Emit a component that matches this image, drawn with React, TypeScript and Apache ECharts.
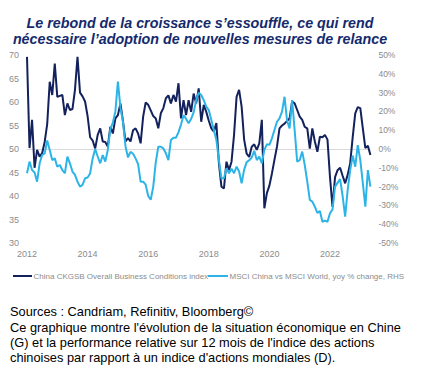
import React, { useEffect, useRef } from "react";
import * as echarts from "echarts";

// Monthly categories Jan 2012 .. May 2023
const months: string[] = [];
for (let y = 2012; y <= 2023; y++) {
  for (let m = 1; m <= 12; m++) {
    if (y === 2023 && m > 5) break;
    months.push(`${y}-${m < 10 ? "0" + m : m}`);
  }
}

const yearLabels = ["2012", "2014", "2016", "2018", "2020", "2022"];

// China CKGSB Overall Business Conditions index (left axis)
const ckgsb = [
  69.6, 50.2, 56.2, 46, 49.8, 48.4, 49.1, 51.5, 55.3, 64.3, 61.5, 68.2,
  61.1, 61.3, 61.5, 57.2, 59.7, 58.3, 58.5, 62.6, 69.6, 62, 61.2, 60.1,
  57, 52.5, 51.8, 50.1, 53, 54.4, 51.6, 51.5, 50.5, 54.7, 53.3, 56.5,
  57.2, 59.7, 56, 51.6, 52.3, 51.6, 54, 54.4, 53.3, 51.2, 56.9, 59.9,
  59.4, 58.2, 57, 56.5, 54.4, 57.6, 58.7, 60.8, 61.4, 59.7, 61.5, 60.1,
  64, 56.5, 60.4, 57.2, 60.4, 57.9, 61.8, 59.7, 62.9, 55.8, 59.4, 57.9,
  56, 54.4, 53.7, 55.5, 47, 42, 41.6, 47.3, 45.5, 47.3, 53, 61.1,
  62.6, 59, 52, 49, 48.3, 50.5, 51, 49.8, 51.2, 56.2, 37.4, 40.6,
  42.2, 44.8, 47.7, 50.5, 54.4, 55, 55.4, 56, 56.5, 60.1, 59.7, 58.3,
  56.9, 56.2, 54.7, 54.4, 50.1, 54.4, 51.6, 49.4, 52.6, 52.5, 53, 52,
  44, 37.7, 44, 45.5, 46, 44.3, 42.7, 44.5, 47, 52.6, 57.6, 58.9,
  58.7, 54.4, 50.2, 50.7, 48.7,
];

// MSCI China vs MSCI World, yoy % change (right axis)
const msci = [
  -12.9, -6.7, -11.2, -12.5, -17.4, -7.6, -3.2, -2.3, 4.5, -0.5, -5.9, -5,
  -9.4, -8.5, -11.2, -12.9, -4.1, -7.6, -12, -13.8, -17.4, -20, -19.1, -15.6,
  -15.2, -13, -5, 0, -4, -7.6, -3.2, -6.7, -0.5, 10.5, 14, 20,
  35.8, 22, 14.5, 1.5, -4.5, -1.5, -2.5, -5, -8, -17.4, -17.4, -19,
  -25, -27, -20, -7, 1.2, 1.2, 0.3, -2.3, -5.9, 4.8, 6, 6,
  9, 13, 18, 16, 13.7, 16, 19.5, 26, 30, 28.7, 26, 22.5,
  20.7, 15.4, 10.1, 4.8, -5.9, -15.6, -15.6, -10.3, -12.9, -10.5, -12.9, -9.4,
  -12, -18.2, -11, -7, -6, -4.5, -1, -5.9, -4.1, -7.6, -0.5, 2.5,
  2.2, 5.7, 10.1, 14.5, 16.3, 19.9, 27.8, 15, 11, 26, 10, -6.7,
  -5.9, -1.4, -8.5, -17.4, -27.1, -28, -30.7, -34, -33, -38.7, -38.1, -38.7,
  -34.2, -32.1, -20, -18, -16, -25, -36, -21.8, -11.2, -3.5, -9.4, 2.1,
  -5.9, -18.2, -30.7, -11.2, -20,
];

const seriesNames = [
  "China CKGSB Overall Business Conditions index",
  "MSCI China vs MSCI World, yoy % change, RHS",
];

const titleLines = [
  "Le rebond de la croissance s’essouffle, ce qui rend",
  "nécessaire l’adoption de nouvelles mesures de relance",
];

const footerLines = [
  "Sources : Candriam, Refinitiv, Bloomberg©",
  "Ce graphique montre l'évolution de la situation économique en Chine",
  "(G) et la performance relative sur 12 mois de l'indice des actions",
  "chinoises par rapport à un indice d'actions mondiales (D).",
];

const FONT = '"Liberation Sans", Arial, sans-serif';
const DARK = "#13215c";
const LIGHT = "#2db4e7";
const GREY = "#8c8c8c";

export default function App() {
  const ref = useRef<HTMLDivElement>(null);
  useEffect(() => {
    if (!ref.current) return;
    const chart = echarts.init(ref.current, undefined, { renderer: "svg" });
    const titleY = [23, 38.5];
    const footerY = [311.5, 327, 342, 357];
    const legendItems = [
      { x0: 13, x1: 32, tx: 33.5, color: DARK, name: seriesNames[0] },
      { x0: 208, x1: 228, tx: 229.5, color: LIGHT, name: seriesNames[1] },
    ];
    const legendY = 276;
    chart.setOption({
      animation: false,
      textStyle: { fontFamily: FONT },
      grid: { left: 27, right: 54.6, top: 55, bottom: 132, containLabel: false },
      xAxis: {
        type: "category",
        data: months,
        boundaryGap: false,
        axisLine: { lineStyle: { color: "#d9d9d9", width: 1 } },
        axisTick: { show: false },
        splitLine: { show: false },
        axisLabel: {
          interval: (i: number) => i % 24 === 0,
          formatter: (v: string) => {
            const y = v.slice(0, 4);
            return yearLabels.indexOf(y) >= 0 ? y : "";
          },
          color: GREY,
          fontSize: 9,
          margin: 6,
          fontFamily: FONT,
        },
      },
      yAxis: [
        {
          type: "value",
          min: 30,
          max: 70,
          interval: 5,
          axisLine: { show: false },
          axisTick: { show: false },
          splitLine: { show: false },
          axisLabel: { color: GREY, fontSize: 9, margin: 8, fontFamily: FONT },
        },
        {
          type: "value",
          position: "right",
          min: -50,
          max: 50,
          interval: 10,
          axisLine: { show: false },
          axisTick: { show: false },
          splitLine: { show: false },
          axisLabel: {
            color: GREY,
            fontSize: 8.5,
            margin: 8,
            formatter: "{value}%",
            fontFamily: FONT,
          },
        },
      ],
      series: [
        {
          name: seriesNames[0],
          type: "line",
          yAxisIndex: 0,
          data: ckgsb,
          showSymbol: false,
          symbol: "none",
          lineStyle: { color: DARK, width: 2 },
          itemStyle: { color: DARK },
        },
        {
          name: seriesNames[1],
          type: "line",
          yAxisIndex: 1,
          data: msci,
          showSymbol: false,
          symbol: "none",
          lineStyle: { color: LIGHT, width: 2 },
          itemStyle: { color: LIGHT },
        },
      ],
      graphic: [
        ...titleLines.map((t, i) => ({
          type: "text",
          x: 200,
          y: titleY[i],
          style: {
            text: t,
            fill: "#142a6c",
            font: `italic bold 14.3px ${FONT}`,
            textAlign: "center",
            textVerticalAlign: "middle",
          },
        })),
        ...legendItems.flatMap((it) => [
          {
            type: "line",
            shape: { x1: it.x0, y1: legendY, x2: it.x1, y2: legendY },
            style: { stroke: it.color, lineWidth: 2 },
          },
          {
            type: "text",
            x: it.tx,
            y: legendY,
            style: {
              text: it.name,
              fill: GREY,
              font: `8px ${FONT}`,
              textAlign: "left",
              textVerticalAlign: "middle",
            },
          },
        ]),
        ...footerLines.map((t, i) => ({
          type: "text",
          x: 10,
          y: footerY[i],
          style: {
            text: t,
            fill: "#000000",
            font: `12.8px ${FONT}`,
            textAlign: "left",
            textVerticalAlign: "middle",
          },
        })),
      ],
    });
    return () => chart.dispose();
  }, []);
  return (
    <div
      ref={ref}
      style={{ position: "fixed", left: 0, top: 0, width: 425, height: 375, background: "#fff" }}
    />
  );
}
